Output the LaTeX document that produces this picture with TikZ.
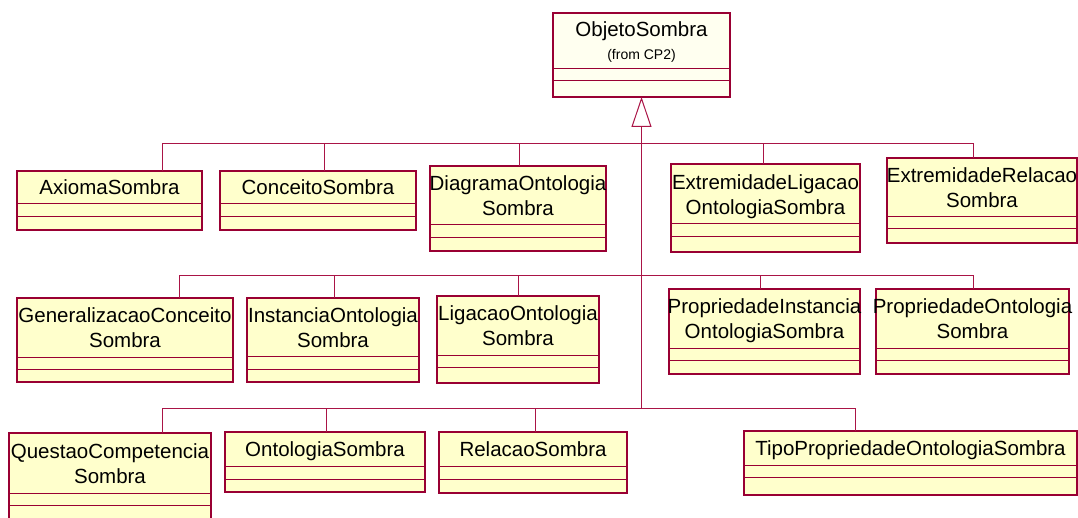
\documentclass[tikz,border=0pt]{standalone}
\usepackage{fontspec}
\setmainfont{Liberation Sans}
\usetikzlibrary{arrows.meta}

\definecolor{umlborder}{RGB}{153,0,51}
\definecolor{umlfill}{RGB}{255,255,204}
\definecolor{umlroot}{RGB}{255,255,240}
\definecolor{umllink}{RGB}{170,20,70}

\tikzset{
  classbox/.style={draw=umlborder, line width=1.2pt, fill=umlfill,
    inner sep=0pt, outer sep=0pt, anchor=north west},
  compline/.style={draw=umlborder, line width=1pt},
  classname/.style={font=\fontsize{20.5}{25}\selectfont, align=center,
    anchor=base, inner sep=0pt},
  fromtext/.style={font=\fontsize{14}{16}\selectfont, anchor=base, inner sep=0pt},
  link/.style={draw=umllink, line width=1pt},
}

% class box: name, left, top, right, bottom, first separator, second separator, text
% one-line name (base anchor = baseline of the line)
\newcommand{\umlclassA}[8]{%
  \node[classbox, minimum width={(#4-#2)*1pt}, minimum height={(#5-#3)*1pt}] (#1) at (#2,#3) {};
  \draw[compline] (#2,#6) -- (#4,#6) (#2,#7) -- (#4,#7);
  \node[classname] (#1-name) at ({(#2+#4)/2},{(#3+#6)/2+7.4}) {#8};
}
% two-line name (base anchor = baseline of the second line)
\newcommand{\umlclassB}[8]{%
  \node[classbox, minimum width={(#4-#2)*1pt}, minimum height={(#5-#3)*1pt}] (#1) at (#2,#3) {};
  \draw[compline] (#2,#6) -- (#4,#6) (#2,#7) -- (#4,#7);
  \node[classname] (#1-name) at ({(#2+#4)/2},{(#3+#6)/2+20.4}) {#8};
}

\begin{document}
\begin{tikzpicture}[x=1pt,y=-1pt]
\useasboundingbox (0,0) rectangle (1078,518);
\fill[white] (0,0) rectangle (1078,518);
\clip (0,0) rectangle (1078,518);

% superclass
\node[classbox, fill=umlroot, minimum width=177pt, minimum height=84pt] (objeto) at (553,13) {};
\draw[compline] (553,69) -- (730,69) (553,81) -- (730,81);
\node[classname] (objeto-name) at (641.5,37) {ObjetoSombra};
\node[fromtext] (objeto-from) at (641.5,60) {(from CP2)};

% first row
\umlclassA{axioma}{17}{171}{202}{230}{204}{217}{AxiomaSombra}
\umlclassA{conceito}{220}{171}{416}{230}{204}{217}{ConceitoSombra}
\umlclassB{diagrama}{430}{166}{606}{251}{225}{238}{DiagramaOntologia\\Sombra}
\umlclassB{extlig}{671}{164}{860}{252}{224}{237}{ExtremidadeLigacao\\OntologiaSombra}
\umlclassB{extrel}{887}{158}{1077}{243}{217}{229}{ExtremidadeRelacao\\Sombra}

% second row
\umlclassB{general}{17}{298}{233}{382}{357}{369}{GeneralizacaoConceito\\Sombra}
\umlclassB{instancia}{247}{298}{419}{382}{356}{369}{InstanciaOntologia\\Sombra}
\umlclassB{ligacao}{437}{296}{599}{383}{355}{367}{LigacaoOntologia\\Sombra}
\umlclassB{propinst}{669}{289}{860}{374}{348}{360}{PropriedadeInstancia\\OntologiaSombra}
\umlclassB{propont}{876}{289}{1069}{374}{348}{360}{PropriedadeOntologia\\Sombra}

% third row
\umlclassB{questao}{9}{433}{211}{522}{493}{505}{QuestaoCompetencia\\Sombra}
\umlclassA{ontologia}{225}{432}{425}{492}{466}{479}{OntologiaSombra}
\umlclassA{relacao}{439}{432}{627}{493}{466}{479}{RelacaoSombra}
\umlclassA{tipo}{744}{431}{1077}{495}{465}{477}{TipoPropriedadeOntologiaSombra}

% generalization tree
\coordinate (hubA) at (641.5,144);
\coordinate (hubB) at (641.5,276);
\coordinate (hubC) at (641.5,408);
\draw[link, -{Triangle[open, length=30pt, width=20pt]}] (hubC) -- (objeto.south);

\draw[link] ([xshift=52.5pt]axioma.north) |- (hubA);
\draw[link] ([xshift=6pt]conceito.north) |- (hubA);
\draw[link] ([xshift=1pt]diagrama.north) |- (hubA);
\draw[link] ([xshift=-2.5pt]extlig.north) |- (hubA);
\draw[link] ([xshift=-9pt]extrel.north) |- (hubA);

\draw[link] ([xshift=54pt]general.north) |- (hubB);
\draw[link] ([xshift=1pt]instancia.north) |- (hubB);
\draw[link] (ligacao.north) |- (hubB);
\draw[link] ([xshift=-4.5pt]propinst.north) |- (hubB);
\draw[link] ([xshift=0.5pt]propont.north) |- (hubB);

\draw[link] ([xshift=52pt]questao.north) |- (hubC);
\draw[link] ([xshift=1pt]ontologia.north) |- (hubC);
\draw[link] ([xshift=2pt]relacao.north) |- (hubC);
\draw[link] ([xshift=-55.5pt]tipo.north) |- (hubC);
\end{tikzpicture}
\end{document}
